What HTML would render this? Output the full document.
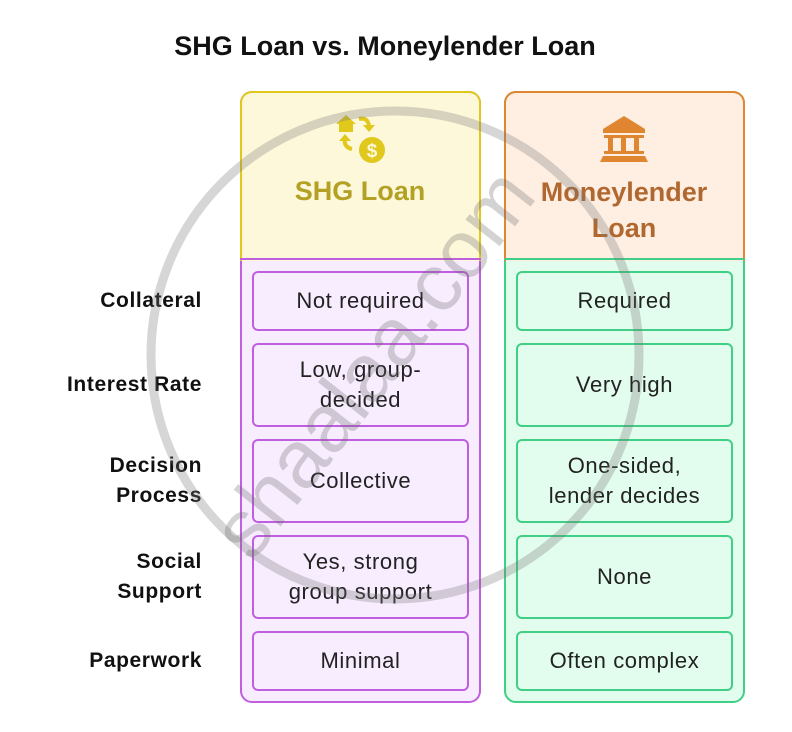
<!DOCTYPE html>
<html><head><style>
body{margin:0;width:792px;height:732px;background:#fff;font-family:"Liberation Sans",sans-serif;position:relative;overflow:hidden}
.a{position:absolute}
.title{left:0;width:770px;top:31px;text-align:center;font-weight:bold;font-size:27px;color:#111}
.col{position:absolute;width:241px;border-radius:12px;box-sizing:border-box}
.lbl{position:absolute;right:590px;text-align:right;font-weight:bold;font-size:21px;letter-spacing:0.6px;color:#111;line-height:30px}
.box{position:absolute;box-sizing:border-box;border-radius:6px;display:flex;align-items:center;justify-content:center;text-align:center;font-size:22px;letter-spacing:0.6px;color:#222;line-height:30px}
.l{left:252px;width:217px;border:2px solid #c05ee0;background:#f8edff}
.r{left:516px;width:217px;border:2px solid #3fcf86;background:#e2fdee}
</style></head><body>
<div class="a title">SHG Loan vs. Moneylender Loan</div>
<div class="col" style="left:240px;top:91px;height:612px;border:2px solid #c05ee0;background:#f8edff"></div>
<div class="col" style="left:240px;top:91px;height:170px;border:2px solid #e0c81c;border-bottom:none;border-radius:12px 12px 0 0;background:#fef8da"></div>
<div class="a" style="left:240px;top:258px;width:241px;height:2px;background:#c05ee0"></div>
<div class="col" style="left:504px;top:91px;height:612px;border:2px solid #3fcf86;background:#e2fdee"></div>
<div class="col" style="left:504px;top:91px;height:170px;border:2px solid #e08530;border-bottom:none;border-radius:12px 12px 0 0;background:#feefe2"></div>
<div class="a" style="left:504px;top:258px;width:241px;height:2px;background:#3fcf86"></div>
<svg class="a" style="left:334px;top:112px" width="52" height="52" viewBox="0 0 52 52">
<path d="M2 12 L12 3 L22 12 L19 12 L19 20 L5 20 L5 12Z" fill="#e0c81c"/>
<path d="M25 7 Q34 5 35 14" stroke="#e0c81c" stroke-width="4" fill="none"/><path d="M29 13 L35 20 L41 13Z" fill="#e0c81c"/>
<path d="M11 26 Q9 35 18 37" stroke="#e0c81c" stroke-width="4" fill="none"/><path d="M5 29 L11 22 L17 29Z" fill="#e0c81c"/>
<circle cx="38" cy="38" r="13" fill="#e0c81c"/><text x="38" y="45" font-size="19" font-weight="bold" fill="#fef8da" text-anchor="middle" font-family="Liberation Sans">$</text>
</svg>
<svg class="a" style="left:600px;top:114px" width="50" height="50" viewBox="0 0 50 50">
<path d="M3 15 L24 2 L45 15 L45 19 L3 19Z" fill="#e08530"/>
<rect x="4" y="21" width="40" height="3" fill="#e08530"/>
<rect x="8" y="24" width="5" height="13" fill="#e08530"/><rect x="21" y="24" width="5" height="13" fill="#e08530"/><rect x="34" y="24" width="5" height="13" fill="#e08530"/>
<rect x="4" y="37" width="40" height="3" fill="#e08530"/>
<path d="M3 42 L45 42 L48 48 L0 48Z" fill="#e08530"/>
</svg>
<div class="a" style="left:240px;width:240px;top:176px;text-align:center;font-weight:bold;font-size:27px;color:#b3a126">SHG Loan</div>
<div class="a" style="left:504px;width:240px;top:174px;text-align:center;font-weight:bold;font-size:27px;color:#b06830;line-height:36px">Moneylender<br>Loan</div>
<div class="lbl" style="top:286px">Collateral</div>
<div class="lbl" style="top:370px">Interest Rate</div>
<div class="lbl" style="top:451px">Decision<br>Process</div>
<div class="lbl" style="top:547px">Social<br>Support</div>
<div class="lbl" style="top:646px">Paperwork</div>
<div class="box l" style="top:271px;height:60px">Not required</div>
<div class="box l" style="top:343px;height:84px">Low, group-<br>decided</div>
<div class="box l" style="top:439px;height:84px">Collective</div>
<div class="box l" style="top:535px;height:84px">Yes, strong<br>group support</div>
<div class="box l" style="top:631px;height:60px">Minimal</div>
<div class="box r" style="top:271px;height:60px">Required</div>
<div class="box r" style="top:343px;height:84px">Very high</div>
<div class="box r" style="top:439px;height:84px">One-sided,<br>lender decides</div>
<div class="box r" style="top:535px;height:84px">None</div>
<div class="box r" style="top:631px;height:60px">Often complex</div>
<svg class="a" style="left:0;top:0" width="792" height="732">
<circle cx="395" cy="355" r="244" fill="none" stroke="rgba(120,120,120,0.3)" stroke-width="9"/>
<text x="395" y="380" transform="rotate(-52 395 380)" text-anchor="middle" font-size="82" font-family="Liberation Sans" fill="rgba(110,110,110,0.3)">shaalaa.com</text>
</svg>
</body></html>
